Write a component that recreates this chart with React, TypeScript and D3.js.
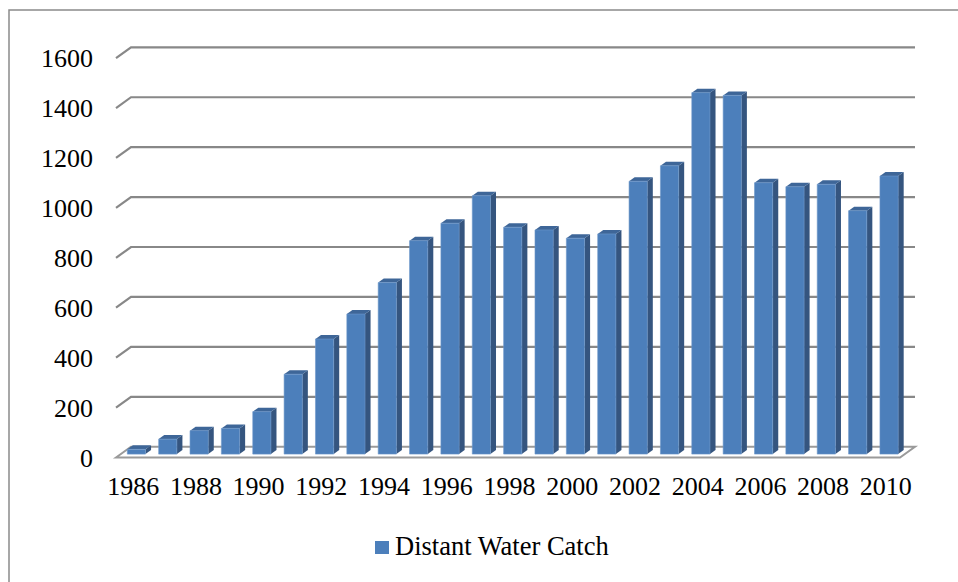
import * as d3 from "d3";
import React from "react";

const years = [
  "1986", "1987", "1988", "1989", "1990", "1991", "1992", "1993", "1994",
  "1995", "1996", "1997", "1998", "1999", "2000", "2001", "2002", "2003",
  "2004", "2005", "2006", "2007", "2008", "2009", "2010",
];
const catch_ = [
  19, 60, 94, 103, 170, 320, 461, 561, 687, 855, 925, 1035, 909, 898, 865,
  882, 1093, 1155, 1448, 1437, 1087, 1071, 1081, 975, 1114,
];
const yTicks = [0, 200, 400, 600, 800, 1000, 1200, 1400, 1600];
const xLabels = ["1986", "1988", "1990", "1992", "1994", "1996", "1998", "2000", "2002", "2004", "2006", "2008", "2010"];
const seriesName = "Distant Water Catch";

const FONT = "'Liberation Serif', 'Times New Roman', serif";

export default function App() {
  const width = 958;
  const height = 582;

  // front plane of the floor, and the depth offset to the back wall
  const left = 116;
  const right = 900;
  const floorY = 457.5;
  const depthX = 15;
  const depthY = 10.8;

  const x = d3.scaleBand().domain(years).range([left, right]);
  const y = d3.scaleLinear().domain([0, 1600]).range([0, 399.4]);

  // project: front-plane x, value, depth (0 front .. 1 back)
  const px = (xf: number, d: number) => xf + depthX * d;
  const py = (v: number, d: number) => floorY - depthY * d - y(v);

  const barW = x.bandwidth() * 0.58;
  const d0 = 0.315;
  const d1 = 0.685;

  const pts = (arr: number[][]) => arr.map((p) => p.join(",")).join(" ");

  return (
    <svg width={width} height={height} style={{ position: "absolute", left: 0, top: 0 }}>
      <rect x={0} y={0} width={width} height={height} fill="#fff" />
      <rect x={9} y={10} width={width + 20} height={height + 20} fill="none" stroke="#8a8a8a" strokeWidth={1.5} />

      {/* gridlines on the back wall with the left-wall diagonal */}
      <g fill="none" stroke="#888" strokeWidth={2.2}>
        {yTicks.filter((t) => t > 0).map((t) => (
          <polyline
            key={t}
            points={pts([[px(left, 0), py(t, 0)], [px(left, 1), py(t, 1)], [px(right, 1), py(t, 1)]])}
          />
        ))}
      </g>

      {/* floor */}
      <polygon
        points={pts([
          [px(left, 0), py(0, 0)],
          [px(left, 1), py(0, 1)],
          [px(right, 1), py(0, 1)],
          [px(right, 0), py(0, 0)],
        ])}
        fill="#fff"
        stroke="#9a9a9a"
        strokeWidth={2}
      />

      {/* bars */}
      <g>
        {years.map((yr, i) => {
          const v = catch_[i];
          const xl = (x(yr) as number) + (x.bandwidth() - barW) / 2;
          const xr = xl + barW;
          const front = [[px(xl, d0), py(0, d0)], [px(xl, d0), py(v, d0)], [px(xr, d0), py(v, d0)], [px(xr, d0), py(0, d0)]];
          const side = [[px(xr, d0), py(0, d0)], [px(xr, d0), py(v, d0)], [px(xr, d1), py(v, d1)], [px(xr, d1), py(0, d1)]];
          const top = [[px(xl, d0), py(v, d0)], [px(xl, d1), py(v, d1)], [px(xr, d1), py(v, d1)], [px(xr, d0), py(v, d0)]];
          return (
            <g key={yr}>
              <polygon points={pts(side)} fill="#35557f" />
              <polygon points={pts(top)} fill="#3e6698" />
              <polygon points={pts(front)} fill="#4c7fbb" stroke="#6d97c9" strokeWidth={0.6} />
            </g>
          );
        })}
      </g>

      {/* y tick labels */}
      <g fontFamily={FONT} fontSize={26} fill="#000" textAnchor="end">
        {yTicks.map((t) => (
          <text key={t} x={93} y={py(t, 0)} dy="0.35em">
            {t}
          </text>
        ))}
      </g>

      {/* x tick labels */}
      <g fontFamily={FONT} fontSize={26} fill="#000" textAnchor="middle">
        {xLabels.map((l) => (
          <text key={l} x={(x(l) as number) + x.bandwidth() / 2 + 1.5} y={495}>
            {l}
          </text>
        ))}
      </g>

      {/* legend */}
      <rect x={375} y={541} width={14} height={13} fill="#4c7fbb" />
      <text x={395} y={555} fontFamily={FONT} fontSize={26.5} fill="#000">
        {seriesName}
      </text>
    </svg>
  );
}
